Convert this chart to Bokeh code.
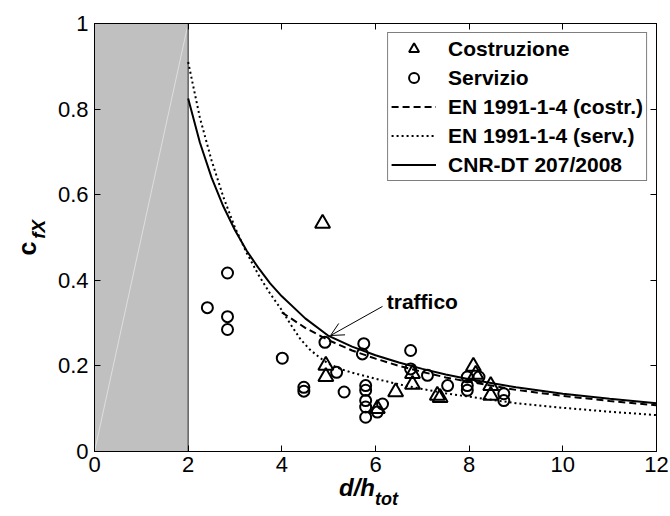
from bokeh.plotting import figure
from bokeh.models import (Range1d, LinearAxis, FixedTicker, Label, Arrow, OpenHead,
                          Legend, LegendItem)
from bokeh.core.properties import value
from bokeh.embed import file_html
from bokeh.resources import INLINE

# ---------------- data ----------------
costr_x = [4.87, 4.94, 4.94, 6.04, 6.43, 6.79, 6.79, 7.32, 7.38, 8.09, 8.14, 8.46, 8.46]
costr_y = [0.533, 0.201, 0.175, 0.100, 0.139, 0.182, 0.157, 0.131, 0.126, 0.199, 0.180, 0.154, 0.131]

serv_x = [2.41, 2.84, 2.84, 2.84, 4.01, 4.47, 4.47, 4.92, 5.17, 5.33, 5.75, 5.72,
          5.79, 5.79, 5.79, 5.79, 5.79, 6.04, 6.15, 6.75, 6.75, 7.11, 7.54, 7.96,
          7.96, 7.96, 8.21, 8.74, 8.74]
serv_y = [0.336, 0.417, 0.315, 0.285, 0.218, 0.150, 0.141, 0.255, 0.185, 0.139, 0.252, 0.228,
          0.154, 0.143, 0.119, 0.104, 0.080, 0.092, 0.111, 0.236, 0.193, 0.178, 0.154, 0.174,
          0.154, 0.143, 0.174, 0.135, 0.119]

en_costr_x = [4.0, 4.5, 5.0, 5.5, 6.0, 6.5, 7.0, 7.5, 8.0, 9.0, 10.0, 11.0, 12.0]
en_costr_y = [0.325, 0.289, 0.260, 0.236, 0.217, 0.200, 0.186, 0.173, 0.163, 0.144, 0.130, 0.118, 0.108]

en_serv_x = [2.0, 2.25, 2.5, 2.75, 3.0, 3.25, 3.5, 3.75, 4.0, 4.2, 4.4, 4.6, 4.8, 5.0,
             5.25, 5.5, 6.0, 6.5, 7.0, 7.5, 8.0, 9.0, 10.0, 11.0, 12.0]
en_serv_y = [0.91, 0.78, 0.68, 0.595, 0.523, 0.464, 0.413, 0.369, 0.33, 0.295, 0.262, 0.238,
             0.220, 0.205, 0.193, 0.184, 0.170, 0.157, 0.146, 0.136, 0.128, 0.113, 0.102,
             0.093, 0.085]

cnr_x = [2.0, 2.25, 2.5, 2.75, 3.0, 3.25, 3.5, 3.75, 4.0, 4.5, 5.0, 5.5, 6.0, 6.5, 7.0,
         7.5, 8.0, 9.0, 10.0, 11.0, 12.0]
cnr_y = [0.825, 0.722, 0.640, 0.573, 0.517, 0.469, 0.429, 0.393, 0.3625, 0.311, 0.270,
         0.245, 0.225, 0.208, 0.193, 0.180, 0.169, 0.150, 0.135, 0.123, 0.1125]

shade_x = [0, 2]
shade_y = [0, 1]

x_ticks = [0, 2, 4, 6, 8, 10, 12]
y_ticks = [0, 0.2, 0.4, 0.6, 0.8, 1]
y_tick_labels = ["0", "0.2", "0.4", "0.6", "0.8", "1"]

legend_labels = ["Costruzione", "Servizio", "EN 1991-1-4 (costr.)",
                 "EN 1991-1-4 (serv.)", "CNR-DT 207/2008"]
annot_text = "traffico"

FONT = "Liberation Sans"

# ---------------- figure ----------------
p = figure(width=670, height=516, output_backend="svg", toolbar_location=None,
           x_range=Range1d(0, 12), y_range=Range1d(0, 1),
           min_border_left=94, min_border_right=14, min_border_top=23, min_border_bottom=65,
           background_fill_color="white", border_fill_color="white")
p.outline_line_color = "black"
p.outline_line_width = 1
p.xgrid.visible = False
p.ygrid.visible = False

# grey excluded region
p.quad(left=[shade_x[0]], right=[shade_x[1]], bottom=[shade_y[0]], top=[shade_y[1]],
       fill_color="#c0c0c0", line_color=None)
p.line(x=shade_x, y=shade_y, line_color="#dedede", line_width=1)
p.line(x=[shade_x[1], shade_x[1]], y=shade_y, line_color="#606060", line_width=1.5)

# curves
r_costr = p.line(x=en_costr_x, y=en_costr_y, line_color="black", line_width=2, line_dash="7 4")
r_serv = p.line(x=en_serv_x, y=en_serv_y, line_color="black", line_width=2, line_dash="2 3")
r_cnr = p.line(x=cnr_x, y=cnr_y, line_color="black", line_width=2)

# markers
r_tri = p.scatter(x=costr_x, y=costr_y, marker="triangle", size=15, fill_color=None,
                  line_color="black", line_width=2)
r_circ = p.scatter(x=serv_x, y=serv_y, marker="circle", size=11, fill_color=None,
                   line_color="black", line_width=2)

# axes styling
def style_axis(ax, show_labels):
    ax.axis_line_color = "black"
    ax.axis_line_width = 1
    ax.major_tick_line_color = "black"
    ax.major_tick_in = 6
    ax.major_tick_out = 0
    ax.minor_tick_in = 0
    ax.minor_tick_out = 0
    ax.major_label_text_font = FONT
    ax.major_label_text_font_size = "22px"
    ax.major_label_text_color = "black" if show_labels else None
    ax.major_label_standoff = 5

xa = p.xaxis[0]
xa.ticker = FixedTicker(ticks=x_ticks)
style_axis(xa, True)
ya = p.yaxis[0]
ya.ticker = FixedTicker(ticks=y_ticks)
ya.major_label_overrides = {t: s for t, s in zip(y_ticks, y_tick_labels)}
style_axis(ya, True)
ya.major_label_standoff = 6

top = LinearAxis(ticker=FixedTicker(ticks=x_ticks))
style_axis(top, False)
p.add_layout(top, "above")
right = LinearAxis(ticker=FixedTicker(ticks=y_ticks))
style_axis(right, False)
p.add_layout(right, "right")

# axis titles (with subscripts) as overlay-level text glyphs
def title_text(x, y, txt, size, style, angle=0.0):
    p.text(x=[x], y=[y], text=[txt], text_font=value(FONT), text_font_size=value(size),
           text_font_style=style, text_align="left", text_baseline="alphabetic",
           text_color="black", angle=angle, level="overlay")

title_text(5.22, -0.085, "d/h", "24px", "bold italic")
title_text(5.99, -0.112, "tot", "18px", "bold italic")
title_text(-1.45, 0.458, "c", "25px", "bold", angle=1.5707963)
title_text(-1.19, 0.497, "fX", "19px", "bold italic", angle=1.5707963)

# annotation
p.add_layout(Arrow(end=OpenHead(size=13, line_width=1, line_color="black"),
                   x_start=6.15, y_start=0.339, x_end=5.04, y_end=0.271,
                   line_width=1, line_color="black"))
p.add_layout(Label(x=6.24, y=0.35, text=annot_text, text_font=FONT, text_font_size="21px",
                   text_font_style="bold", text_baseline="alphabetic", text_color="black"))

# legend
legend = Legend(items=[LegendItem(label=legend_labels[0], renderers=[r_tri]),
                       LegendItem(label=legend_labels[1], renderers=[r_circ]),
                       LegendItem(label=legend_labels[2], renderers=[r_costr]),
                       LegendItem(label=legend_labels[3], renderers=[r_serv]),
                       LegendItem(label=legend_labels[4], renderers=[r_cnr])],
                location="top_right", margin=9, padding=3, spacing=4,
                glyph_width=45, glyph_height=25, label_height=25, label_standoff=12,
                label_text_font=FONT, label_text_font_size="21px",
                label_text_font_style="bold", label_text_color="black",
                border_line_color="black", border_line_width=1,
                background_fill_color="white", background_fill_alpha=1)
p.add_layout(legend)

open("out.html", "w").write(file_html(p, INLINE))
